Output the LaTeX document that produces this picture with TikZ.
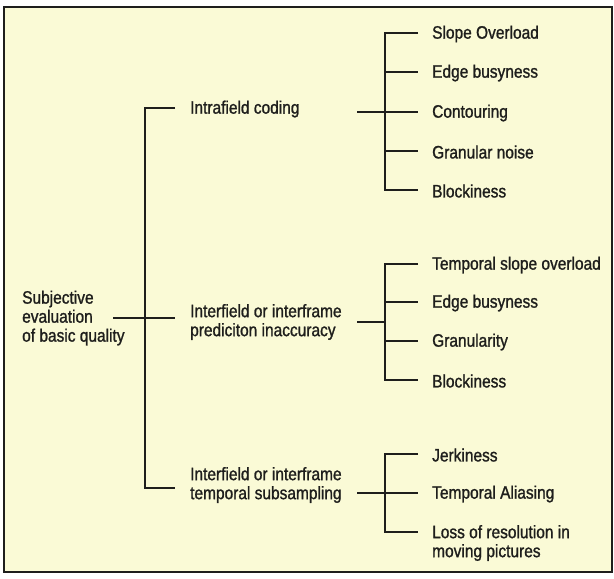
\documentclass[tikz,border=0pt]{standalone}
\usepackage{fontspec}
\setmainfont[FakeStretch=0.86,FakeBold=1.2]{Liberation Sans}
\definecolor{bg}{RGB}{250,250,214}
\definecolor{ink}{RGB}{30,30,28}
\tikzset{
  ln/.style={draw=ink, line width=2pt},
  lbl/.style={anchor=west, inner sep=0pt, align=left, text=ink,
    font=\fontsize{18}{19}\selectfont},
}
\begin{document}
\begin{tikzpicture}[x=1pt,y=-1pt]
\useasboundingbox (0,0) rectangle (614,579);
\fill[white] (0,0) rectangle (614,579);
\filldraw[fill=bg, draw=ink, line width=2.4pt] (4,7) rectangle (612,572);

% labels
\node[lbl] (root) at (22,318) {Subjective\\evaluation\\of basic quality};
\node[lbl] (ic) at (190,109) {Intrafield coding};
\node[lbl] (ip) at (190,322) {Interfield or interframe\\prediciton inaccuracy};
\node[lbl] (it) at (190,485) {Interfield or interframe\\temporal subsampling};

\node[lbl] (a1) at (432,34) {Slope Overload};
\node[lbl] (a2) at (432,73) {Edge busyness};
\node[lbl] (a3) at (432,113) {Contouring};
\node[lbl] (a4) at (432,152) {Granular noise};
\node[lbl] (a5) at (432,191) {Blockiness};

\node[lbl] (b1) at (432,265) {Temporal slope overload};
\node[lbl] (b2) at (432,303) {Edge busyness};
\node[lbl] (b3) at (432,342) {Granularity};
\node[lbl] (b4) at (432,381) {Blockiness};

\node[lbl] (c1) at (432,455) {Jerkiness};
\node[lbl] (c2) at (432,494) {Temporal Aliasing};
\node[lbl] (c3) at (432,543) {Loss of resolution in\\moving pictures};

% main trunk
\coordinate (tT) at (175,108);
\coordinate (tB) at (175,488);
\coordinate (rs) at (113,318);
\coordinate (re) at (175,318);
\draw[ln] (tT) -| (145,488) -- (tB);
\draw[ln] (rs) -- (re);

% group A
\coordinate (gA) at (357,112);
\coordinate (a1e) at (418,33);
\coordinate (a2e) at (418,72);
\coordinate (a3e) at (418,112);
\coordinate (a4e) at (418,151);
\coordinate (a5e) at (418,190);
\draw[ln] (a1e) -| (385,190) -- (a5e);
\draw[ln] (385,72) -- (a2e);
\draw[ln] (gA) -- (a3e);
\draw[ln] (385,151) -- (a4e);

% group B
\coordinate (gB) at (357,322);
\coordinate (b1e) at (418,264);
\coordinate (b2e) at (418,302);
\coordinate (b3e) at (418,341);
\coordinate (b4e) at (418,380);
\draw[ln] (b1e) -| (385,380) -- (b4e);
\draw[ln] (385,302) -- (b2e);
\draw[ln] (385,341) -- (b3e);
\draw[ln] (gB) -- (385,322);

% group C
\coordinate (gC) at (357,493);
\coordinate (c1e) at (418,454);
\coordinate (c2e) at (418,493);
\coordinate (c3e) at (418,532);
\draw[ln] (c1e) -| (385,532) -- (c3e);
\draw[ln] (gC) -- (c2e);
\end{tikzpicture}
\end{document}
